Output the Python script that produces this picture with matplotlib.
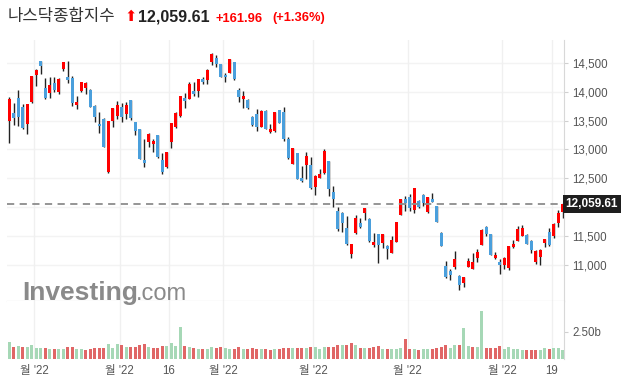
import numpy as np
import matplotlib.pyplot as plt
import matplotlib.transforms as mtransforms

plt.rcParams['font.family'] = ['Liberation Sans', 'Noto Sans CJK KR', 'DejaVu Sans']

# NASDAQ composite, daily candles 2022-01-24 .. 2022-07-21
opens = [13497, 13630, 13890, 13734, 13445, 13815, 14293, 14530, 14057, 13982,
         14143, 14000, 14397, 14253, 14241, 13774, 14011, 14068, 14028, 13751,
         13440, 13526, 12603, 13497, 13584, 13734, 13618, 13849, 13480, 13347,
         12817, 13134, 13099, 13244, 12817, 12702, 13134, 13382, 13578, 13890,
         13878, 14011, 14016, 14218, 14201, 14512, 14582, 14472, 14287, 14328,
         14507, 14028, 13872, 13855, 13561, 13613, 13394, 13670, 13307, 13324,
         13676, 13648, 13180, 12754, 12938, 12506, 12725, 12725, 12344, 12511,
         12586, 12794, 12258, 11935, 11894, 11641, 11196, 11560, 11727, 11906,
         11796, 11346, 11537, 11381, 11329, 11214, 11404, 11865, 12142, 12171,
         11952, 12102, 12206, 11917, 12148, 12021, 11548, 10977, 10891, 10972,
         10810, 10695, 10972, 10937, 11127, 11352, 11658, 11537, 11127, 11052,
         11000, 10954, 11312, 11421, 11508, 11519, 11416, 11058, 11145, 11387,
         11571, 11502, 11733, 11917]
highs = [13901, 13797, 14022, 13780, 13790, 14270, 14397, 14530, 14230, 14247,
         14259, 14241, 14512, 14530, 14264, 13930, 14166, 14160, 14040, 13763,
         13642, 13538, 13492, 13711, 13832, 13809, 13815, 13849, 13480, 13359,
         13175, 13278, 13180, 13244, 12932, 12955, 13457, 13642, 13924, 13970,
         14160, 14172, 14218, 14247, 14385, 14662, 14628, 14472, 14328, 14558,
         14518, 14057, 14011, 13867, 13572, 13694, 13682, 13682, 13440, 13648,
         13688, 13740, 13221, 13025, 12938, 12713, 12950, 12863, 12557, 12655,
         13002, 12794, 12361, 11998, 11917, 11842, 11364, 11860, 11808, 11987,
         11808, 11560, 11537, 11537, 11352, 11508, 11744, 12136, 12194, 12229,
         12333, 12125, 12223, 12171, 12240, 12021, 11571, 11075, 10931, 11243,
         10822, 10799, 11127, 11202, 11271, 11618, 11675, 11537, 11219, 11098,
         11144, 11335, 11433, 11675, 11692, 11537, 11439, 11260, 11283, 11445,
         11641, 11721, 11946, 12067]
lows = [13105, 13422, 13405, 13347, 13261, 13797, 14097, 14299, 13872, 13884,
        14000, 13953, 14362, 14143, 13757, 13699, 13999, 13959, 13728, 13480,
        13278, 13036, 12598, 13382, 13526, 13469, 13526, 13509, 13244, 12840,
        12690, 13048, 12961, 12846, 12575, 12684, 13019, 13365, 13555, 13711,
        13872, 13924, 13913, 14126, 14126, 14455, 14420, 14247, 14160, 14328,
        14201, 13820, 13711, 13705, 13405, 13324, 13382, 13347, 13278, 13307,
        13451, 13151, 12834, 12742, 12494, 12442, 12488, 12315, 12211, 12500,
        12575, 12194, 11998, 11583, 11566, 11341, 11116, 11537, 11635, 11779,
        11398, 11312, 11029, 11300, 11104, 11214, 11404, 11865, 11940, 11935,
        11906, 11987, 12027, 11894, 12085, 11750, 11323, 10770, 10741, 10926,
        10568, 10626, 10960, 10926, 11058, 11341, 11508, 11168, 11104, 10850,
        10926, 10908, 11300, 11410, 11502, 11358, 11202, 11018, 11006, 11306,
        11335, 11462, 11664, 11819]
closes = [13872, 13549, 13567, 13371, 13786, 14270, 14374, 14449, 13895, 14114,
          14028, 14218, 14512, 14207, 13809, 13826, 14166, 14149, 13740, 13567,
          13405, 13048, 13492, 13711, 13763, 13555, 13768, 13549, 13324, 12840,
          12771, 13261, 13140, 12863, 12604, 12955, 13457, 13624, 13924, 13843,
          14137, 13953, 14218, 14172, 14374, 14651, 14472, 14247, 14247, 14558,
          14224, 13913, 13924, 13722, 13428, 13394, 13665, 13359, 13353, 13648,
          13463, 13186, 12857, 13025, 12494, 12459, 12886, 12333, 12534, 12575,
          12973, 12321, 12148, 11629, 11733, 11369, 11364, 11814, 11664, 11987,
          11421, 11398, 11352, 11537, 11277, 11433, 11744, 12136, 12079, 11987,
          12333, 12010, 12067, 12171, 12096, 11750, 11335, 10799, 10822, 11099,
          10649, 10787, 11070, 11052, 11225, 11606, 11531, 11179, 11173, 11000,
          11127, 11323, 11364, 11618, 11641, 11369, 11266, 11243, 11260, 11445,
          11346, 11710, 11894, 12059.61]
# volume in billions
volumes = [1.54, 1.11, 1.17, 1.11, 1.08, 1.27, 0.99, 0.99, 0.99, 0.90,
           0.90, 0.90, 0.90, 1.08, 1.08, 0.90, 0.90, 0.81, 0.90, 0.99,
           0.99, 0.99, 1.36, 0.99, 1.36, 1.27, 1.08, 1.08, 1.08, 1.27,
           1.36, 1.08, 0.99, 0.99, 1.17, 1.17, 1.45, 1.17, 2.89, 1.17,
           1.08, 0.99, 0.90, 0.90, 0.90, 1.08, 0.99, 1.08, 0.99, 0.90,
           0.90, 1.08, 0.90, 0.90, 0.99, 0.90, 0.90, 0.90, 0.81, 0.90,
           0.90, 0.99, 0.99, 0.99, 0.99, 0.99, 0.99, 1.08, 1.08, 0.90,
           1.08, 1.08, 1.08, 1.27, 1.27, 1.27, 1.45, 1.27, 0.99, 0.99,
           0.99, 1.08, 1.17, 0.90, 0.90, 0.90, 0.90, 0.99, 1.81, 0.90,
           0.90, 0.81, 0.90, 0.90, 0.90, 0.99, 1.08, 1.27, 0.99, 1.27,
           1.27, 2.80, 1.17, 1.08, 1.08, 4.37, 0.99, 0.99, 0.99, 1.17,
           0.90, 1.08, 0.90, 0.90, 0.81, 0.81, 0.81, 0.81, 0.81, 0.99,
           0.90, 0.99, 0.99, 0.81]

# x-axis labels: index of the trading day each label belongs to
tick_idx = [6, 25, 36, 48, 68, 89, 110, 121]
tick_labels = ["월 '22", "월 '22", "16", "월 '22", "월 '22", "월 '22", "월 '22", "19"]
price_ticks = [11000, 11500, 12500, 13000, 13500, 14000, 14500]

last_price = 12059.61
change = "+161.96"
change_pct = "(+1.36%)"

o = np.array(opens, dtype=float)
h = np.array(highs, dtype=float)
l = np.array(lows, dtype=float)
c = np.array(closes, dtype=float)
v = np.array(volumes)
x = np.arange(len(c))

up = c >= o
candle_col = np.where(up, '#ff0000', '#4a9fdc')
prev = np.concatenate([[o[0]], c[:-1]])
vol_col = np.where(c >= prev, '#a6d8b6', '#e06666')

W, H = 630, 385
fig = plt.figure(figsize=(6.3, 3.85), dpi=100)
ax = fig.add_axes([7 / W, 1 - 301 / H, 557 / W, 261 / H])
axv = fig.add_axes([7 / W, 1 - 359.3 / H, 557 / W, 58.3 / H])

grid_x = [i - 0.5 for i in tick_idx]

# price panel
for p in [11000, 11500, 12000, 12500, 13000, 13500, 14000, 14500]:
    ax.axhline(p, color='#f3f3f3', lw=1, zorder=0)
for gx in grid_x:
    ax.axvline(gx, color='#f0f0f0', lw=1, zorder=0)
    axv.axvline(gx, color='#f0f0f0', lw=1, zorder=0)

ax.vlines(x, l, h, color='#222222', lw=1, zorder=2)
body = np.maximum(np.abs(c - o), 12)
ax.bar(x, body, bottom=np.minimum(o, c), width=0.7, color=candle_col, zorder=3)

ax.axhline(last_price, color='#8c8c8c', lw=1.3, ls=(0, (4, 3)), zorder=4)
ax.set_xlim(-0.51, 123.27)
ax.set_ylim(10377, 14893)
ax.set_xticks([])
ax.yaxis.tick_right()
ax.set_yticks(price_ticks)
ax.set_yticklabels([f"{t:,}" for t in price_ticks])
ax.tick_params(axis='y', length=3, color='#d0d0d0', labelsize=8.3,
               labelcolor='#555555', pad=3)
for s in ['left', 'top']:
    ax.spines[s].set_visible(False)
ax.spines['right'].set_color('#d8d8d8')
ax.spines['bottom'].set_color('#c8c8c8')

trans = mtransforms.blended_transform_factory(ax.transAxes, ax.transData)
ax.text(1.003, last_price, f"{last_price:,.2f}", transform=trans, ha='left', va='center',
        color='white', fontsize=8.5, fontweight='bold', zorder=6, clip_on=False,
        bbox=dict(boxstyle='square,pad=0.25', fc='#1e1e1e', ec='none'))

# volume panel
axv.bar(x, v, width=0.7, color=vol_col, zorder=2)
axv.set_xlim(-0.51, 123.27)
axv.set_ylim(0, 5.27)
axv.yaxis.tick_right()
axv.set_yticks([2.5])
axv.set_yticklabels(['2.50b'])
axv.tick_params(axis='y', length=3, color='#d0d0d0', labelsize=8.3,
                labelcolor='#555555', pad=3)
axv.set_xticks(grid_x)
axv.set_xticklabels(tick_labels)
axv.tick_params(axis='x', length=0, labelsize=8.3, labelcolor='#555555', pad=4)
for s in ['left', 'top', 'bottom']:
    axv.spines[s].set_visible(False)
axv.spines['right'].set_color('#d8d8d8')

# watermark
fig.text(22 / W, 1 - 300 / H, "Investing", fontsize=19, fontweight='bold',
         color='#8a8a8a', va='baseline', zorder=1)
fig.text(136 / W, 1 - 300 / H, ".com", fontsize=17, color='#8a8a8a',
         va='baseline', zorder=1)

# header
fig.text(8 / W, 1 - 20.5 / H, "나스닥종합지수", fontsize=12, color='#333333',
         family=['Noto Sans CJK KR'], va='baseline')
fig.text(124 / W, 1 - 21 / H, "⬆", fontsize=10.5, color='#ff0000',
         family=['DejaVu Sans'], va='baseline')
fig.text(138 / W, 1 - 21.5 / H, f"{last_price:,.2f}", fontsize=11.5,
         fontweight='bold', color='#222222', va='baseline')
fig.text(215 / W, 1 - 21.5 / H, change, fontsize=9.3, fontweight='bold',
         color='#ff0000', va='baseline')
fig.text(272 / W, 1 - 21.5 / H, change_pct, fontsize=9.3, fontweight='bold',
         color='#ff0000', va='baseline')

fig.savefig('out.png', dpi=100)
